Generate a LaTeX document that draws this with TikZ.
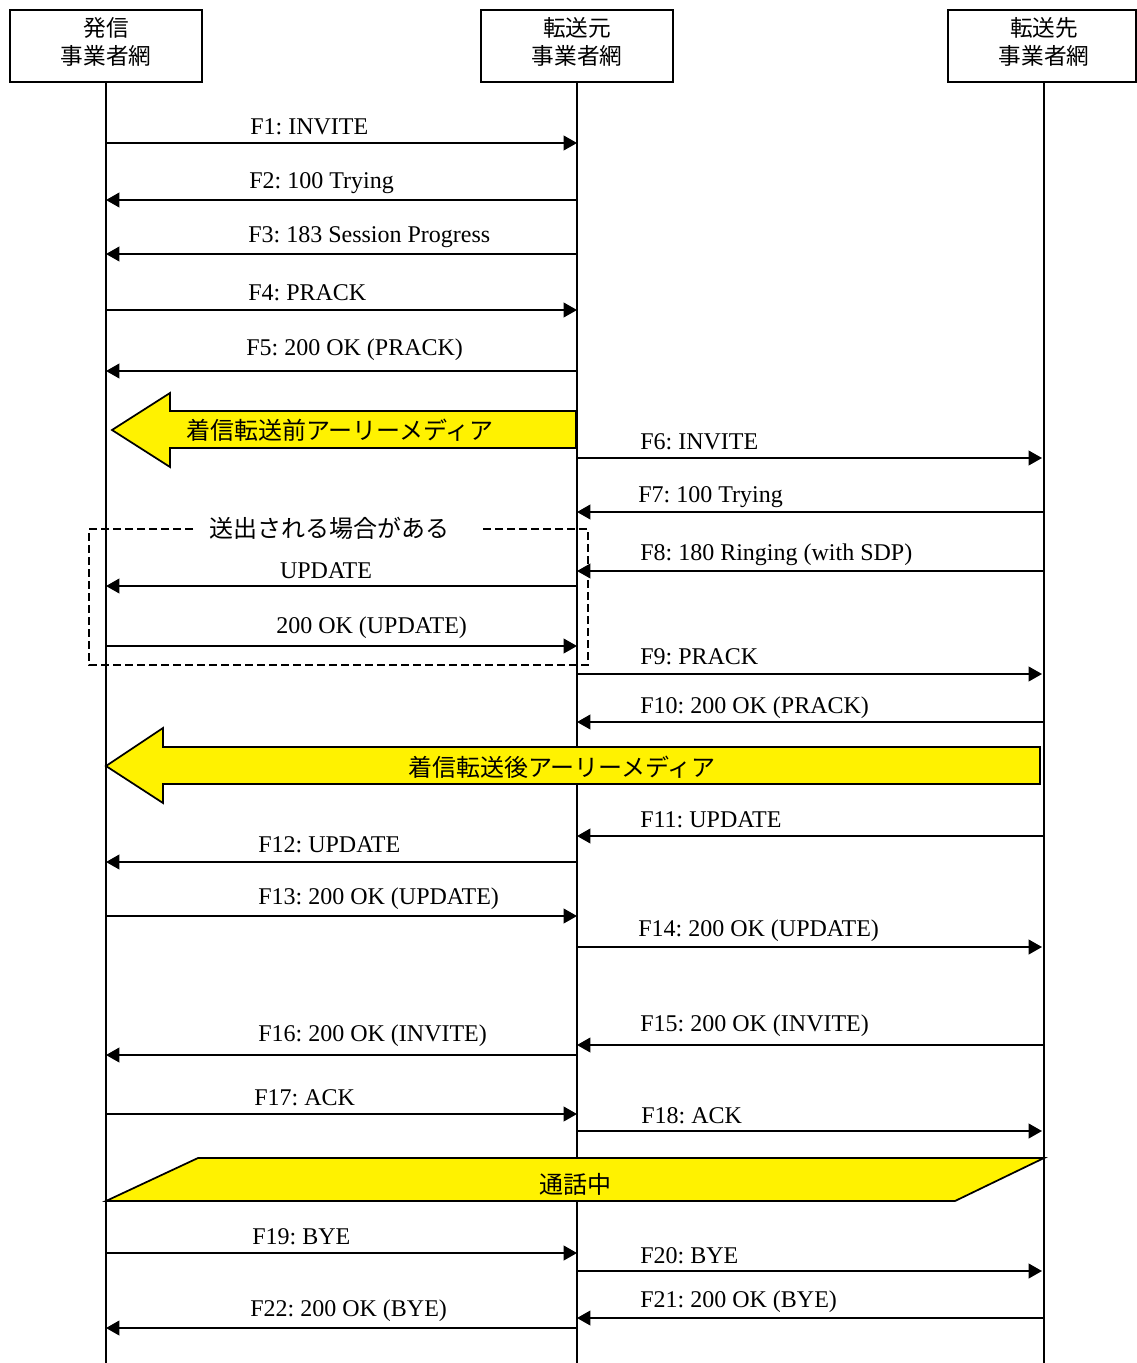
\documentclass[tikz,border=0pt]{standalone}
\usepackage{fontspec}
\setmainfont{Liberation Serif}
\newfontfamily\cjk{Noto Sans CJK JP}
\usetikzlibrary{arrows.meta}
\begin{document}
\frenchspacing
\begin{tikzpicture}[x=0.75pt,y=-0.75pt, font=\fontsize{18}{22}\selectfont,
 hdr/.style={draw,line width=1.2pt,minimum height=54pt,inner sep=0pt},
 hdrtxt/.style={align=center,inner sep=0pt,font=\cjk\fontsize{17}{21.5}\selectfont},
 life/.style={line width=1pt},
 msg/.style={line width=1.3pt,-{Triangle[length=10pt,width=11pt]}},
 lbl/.style={anchor=west,inner sep=0pt,yshift=-1.5pt},
 band/.style={draw,line width=1.3pt,fill=yellow},
 bandtxt/.style={inner sep=0pt,font=\cjk\fontsize{18}{20}\selectfont},
]
\useasboundingbox (0,0) rectangle (1137,1363);
% headers
\node[hdr,minimum width=144pt] (hA) at (106,46) {};
\node[hdr,minimum width=144pt] (hB) at (577,46) {};
\node[hdr,minimum width=141pt] (hC) at (1042,46) {};
\node[hdrtxt] (tA) at (106,42) {発信\\事業者網};
\node[hdrtxt] (tB) at (577,42) {転送元\\事業者網};
\node[hdrtxt] (tC) at (1044,42) {転送先\\事業者網};
\coordinate (A) at (106,82);
\coordinate (B) at (577,82);
\coordinate (C) at (1044,82);
\coordinate (Aend) at (106,1363);
\coordinate (Bend) at (577,1363);
\coordinate (Cend) at (1044,1363);
\draw[life] (A) -- (Aend);
\draw[life] (B) -- (Bend);
\draw[life] (C) -- (Cend);

% messages A <-> B (first block)
\draw[msg] (A|-0,143) -- (B|-0,143);
\node[lbl] (l1) at (250,125) {F1: INVITE};
\draw[msg] (B|-0,200) -- (A|-0,200);
\node[lbl] (l2) at (249,181) {F2: 100 Trying};
\draw[msg] (B|-0,254) -- (A|-0,254);
\node[lbl] (l3) at (248,235) {F3: 183 Session Progress};
\draw[msg] (A|-0,310) -- (B|-0,310);
\node[lbl] (l4) at (248,291) {F4: PRACK};
\draw[msg] (B|-0,371) -- (A|-0,371);
\node[lbl] (l5) at (246,348) {F5: 200 OK (PRACK)};

% early media before transfer
\draw[band] (576,411) -- (170,411) -- (170,393) -- (112,430) -- (170,467) -- (170,448) -- (576,448) -- cycle;
\node[bandtxt] (em1) at (340,430) {着信転送前アーリーメディア};

% B <-> C
\draw[msg] (B|-0,458) -- (1042,458);
\node[lbl] (l6) at (640,440) {F6: INVITE};
\draw[msg] (C|-0,512) -- (B|-0,512);
\node[lbl] (l7) at (638,495) {F7: 100 Trying};
\draw[msg] (C|-0,571) -- (B|-0,571);
\node[lbl] (l8) at (640,553) {F8: 180 Ringing (with SDP)};

% optional box
\draw[line width=1.7pt,dash pattern=on 6pt off 3pt] (193,529) -- (89,529) -- (89,665) -- (588,665) -- (588,529) -- (481,529);
\node[inner sep=0pt,font=\cjk\fontsize{18}{20}\selectfont] (opt) at (329,528) {送出される場合がある};
\draw[msg] (B|-0,586) -- (A|-0,586);
\node[inner sep=0pt,yshift=-1.5pt] (lu) at (326,569) {UPDATE};
\draw[msg] (A|-0,646) -- (B|-0,646);
\node[lbl] (lu2) at (276,626) {200 OK (UPDATE)};

\draw[msg] (B|-0,674) -- (1042,674);
\node[lbl] (l9) at (640,655) {F9: PRACK};
\draw[msg] (C|-0,722) -- (B|-0,722);
\node[lbl] (l10) at (640,706) {F10: 200 OK (PRACK)};

% early media after transfer
\draw[band] (1040,747) -- (163,747) -- (163,728) -- (106,766) -- (163,803) -- (163,784) -- (1040,784) -- cycle;
\node[bandtxt] (em2) at (562,767) {着信転送後アーリーメディア};

\draw[msg] (C|-0,836) -- (B|-0,836);
\node[lbl] (l11) at (640,818) {F11: UPDATE};
\draw[msg] (B|-0,862) -- (A|-0,862);
\node[lbl] (l12) at (258,843) {F12: UPDATE};
\draw[msg] (A|-0,916) -- (B|-0,916);
\node[lbl] (l13) at (258,897) {F13: 200 OK (UPDATE)};
\draw[msg] (B|-0,947) -- (1042,947);
\node[lbl] (l14) at (638,929) {F14: 200 OK (UPDATE)};
\draw[msg] (C|-0,1045) -- (B|-0,1045);
\node[lbl] (l15) at (640,1024) {F15: 200 OK (INVITE)};
\draw[msg] (B|-0,1055) -- (A|-0,1055);
\node[lbl] (l16) at (258,1034) {F16: 200 OK (INVITE)};
\draw[msg] (A|-0,1114) -- (B|-0,1114);
\node[lbl] (l17) at (254,1096) {F17: ACK};
\draw[msg] (B|-0,1131) -- (1042,1131);
\node[lbl] (l18) at (641,1114) {F18: ACK};

% in call
\draw[band] (198,1158) -- (1044,1158) -- (955,1201) -- (106,1201) -- cycle;
\node[bandtxt] (call) at (575,1184) {通話中};

\draw[msg] (A|-0,1253) -- (B|-0,1253);
\node[lbl] (l19) at (252,1235) {F19: BYE};
\draw[msg] (B|-0,1271) -- (1042,1271);
\node[lbl] (l20) at (640,1254) {F20: BYE};
\draw[msg] (C|-0,1318) -- (B|-0,1318);
\node[lbl] (l21) at (640,1300) {F21: 200 OK (BYE)};
\draw[msg] (B|-0,1328) -- (A|-0,1328);
\node[lbl] (l22) at (250,1309) {F22: 200 OK (BYE)};
\end{tikzpicture}
\end{document}
